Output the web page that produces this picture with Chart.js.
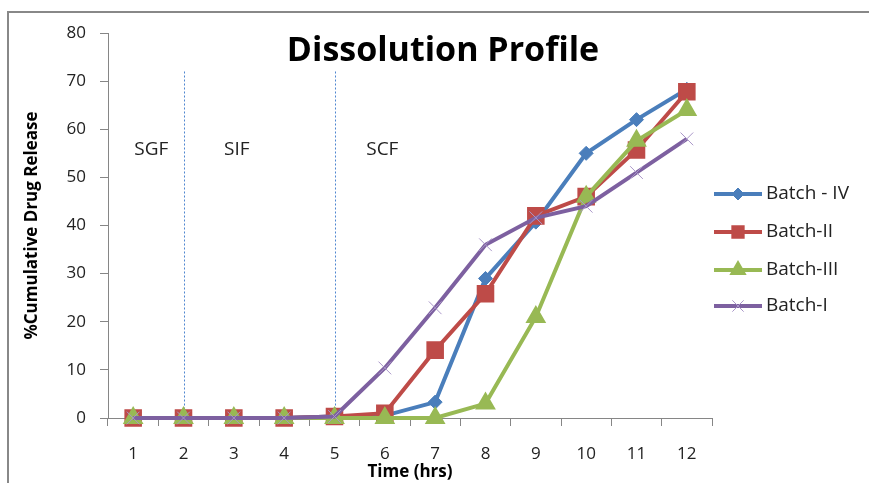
<!DOCTYPE html>
<html>
<head>
<meta charset="utf-8">
<script src="https://cdn.jsdelivr.net/npm/chart.js@4/dist/chart.umd.min.js"></script>
<style>
  html, body { margin: 0; padding: 0; background: #fff; }
  #wrap { width: 869px; height: 483px; }
</style>
</head>
<body>
<div id="wrap"><canvas id="dissChart" width="869" height="483"></canvas></div>
<script>
    var time_x = ['1', '2', '3', '4', '5', '6', '7', '8', '9', '10', '11', '12'];
    var batch_iv = [0, 0, 0, 0, 0.3, 0.5, 3.3, 29, 40.7, 55, 62, 68.3];
    var batch_ii = [0, 0, 0, 0, 0.3, 1, 14.1, 25.8, 42, 46, 55.7, 67.8];
    var batch_iii = [0, 0, 0, 0, 0, 0, 0, 3, 21, 46, 57.6, 64];
    var batch_i = [0, 0, 0, 0, 0.3, 10.4, 22.9, 36, 41.6, 44, 51, 58];
    var phase_names = ['SGF', 'SIF', 'SCF'];
    var phase_at = [0.36, 2.06, 4.95];
    var phase_lines = [1, 4];

    var fontFam = '"Open Sans", "DejaVu Sans", sans-serif';

    // border, phase lines, labels, title and legend
    var extraDraw = {
        id: 'extraDraw',
        beforeDraw: function(chart) {
            var ctx = chart.ctx;
            ctx.save();
            ctx.strokeStyle = '#888';
            ctx.lineWidth = 2;
            ctx.beginPath();
            ctx.moveTo(8, 483);
            ctx.lineTo(8, 12);
            ctx.lineTo(869, 12);
            ctx.stroke();
            ctx.restore();
        },
        beforeDatasetsDraw: function(chart) {
            var ctx = chart.ctx;
            var xs = chart.scales.x, ys = chart.scales.y;
            ctx.save();
            ctx.strokeStyle = '#4F86D0';
            ctx.lineWidth = 1;
            ctx.setLineDash([2, 2]);
            phase_lines.forEach(function(p) {
                var px = Math.round(xs.getPixelForValue(p)) + 0.5;
                ctx.beginPath();
                ctx.moveTo(px, ys.getPixelForValue(72));
                ctx.lineTo(px, ys.getPixelForValue(0));
                ctx.stroke();
            });
            ctx.setLineDash([]);
            ctx.fillStyle = '#222';
            ctx.font = '19px ' + fontFam;
            ctx.textAlign = 'center';
            ctx.textBaseline = 'middle';
            for (var i = 0; i < phase_names.length; i++) {
                ctx.fillText(phase_names[i], xs.getPixelForValue(phase_at[i]), ys.getPixelForValue(55.8));
            }
            ctx.fillStyle = '#000';
            ctx.font = 'bold 34px ' + fontFam;
            ctx.fillText('Dissolution Profile', 443, 51);
            ctx.restore();
        },
        afterDraw: function(chart) {
            var ctx = chart.ctx;
            var rows = [194, 232, 270, 306];
            var sizes = [6, 8, 8, 8];
            ctx.save();
            chart.data.datasets.forEach(function(ds, i) {
                var y = rows[i];
                ctx.strokeStyle = ds.borderColor;
                ctx.lineWidth = 4;
                ctx.beginPath();
                ctx.moveTo(714, y);
                ctx.lineTo(762, y);
                ctx.stroke();
                ctx.fillStyle = ds.pointBackgroundColor;
                ctx.strokeStyle = ds.pointBorderColor;
                ctx.lineWidth = ds.pointBorderWidth;
                Chart.helpers.drawPoint(ctx, {
                    pointStyle: ds.pointStyle,
                    radius: sizes[i],
                    borderWidth: ds.pointBorderWidth,
                    rotation: 0
                }, 738, y);
                ctx.fillStyle = '#222';
                ctx.font = '19px ' + fontFam;
                ctx.textAlign = 'left';
                ctx.textBaseline = 'middle';
                ctx.fillText(ds.label, 766, y);
            });
            ctx.restore();
        }
    };

    const ctx = document.getElementById('dissChart');
    var diss_Chart = new Chart(ctx, {
        type: 'line',
        data: {
            labels: time_x,
            datasets: [{
                label: 'Batch - IV',
                data: batch_iv,
                borderColor: '#4A7EBB',
                backgroundColor: '#4A7EBB',
                pointBackgroundColor: '#4A7EBB',
                pointBorderColor: '#4A7EBB',
                pointStyle: 'rectRot',
                pointRadius: 7,
                pointBorderWidth: 1,
                borderWidth: 4,
                clip: false,
                order: 4
            }, {
                label: 'Batch-II',
                data: batch_ii,
                borderColor: '#BE4B48',
                backgroundColor: '#BE4B48',
                pointBackgroundColor: '#BE4B48',
                pointBorderColor: '#BE4B48',
                pointStyle: 'rect',
                pointRadius: 11,
                pointBorderWidth: 2,
                borderWidth: 4,
                clip: false,
                order: 3
            }, {
                label: 'Batch-III',
                data: batch_iii,
                borderColor: '#98B954',
                backgroundColor: '#98B954',
                pointBackgroundColor: '#98B954',
                pointBorderColor: '#98B954',
                pointStyle: 'triangle',
                pointRadius: 10,
                pointBorderWidth: 2,
                borderWidth: 4,
                clip: false,
                order: 2
            }, {
                label: 'Batch-I',
                data: batch_i,
                borderColor: '#7D60A0',
                backgroundColor: '#7D60A0',
                pointBackgroundColor: '#A996C8',
                pointBorderColor: '#A996C8',
                pointStyle: 'crossRot',
                pointRadius: 9,
                pointBorderWidth: 1,
                borderWidth: 4,
                clip: false,
                order: 1
            }]
        },
        options: {
            responsive: false,
            animation: false,
            devicePixelRatio: 1,
            layout: {
                padding: { left: 8, right: 157, top: 33, bottom: 0 }
            },
            plugins: {
                legend: { display: false },
                title: { display: false },
                tooltip: { enabled: false }
            },
            scales: {
                x: {
                    offset: true,
                    afterFit: function(s) { s.height = 65; },
                    grid: { drawOnChartArea: false, drawTicks: true, tickLength: 8, color: '#868686', offset: true },
                    border: { color: '#868686', width: 1 },
                    ticks: { color: '#222', font: { family: fontFam, size: 17 }, padding: 18, maxRotation: 0 },
                    title: { display: true, text: 'Time (hrs)', color: '#000', font: { family: fontFam, size: 17, weight: 'bold' }, padding: { top: 0, bottom: 1 } }
                },
                y: {
                    min: 0,
                    max: 80,
                    afterFit: function(s) { s.width = 100; },
                    grid: { drawOnChartArea: false, drawTicks: true, tickLength: 8, color: '#868686' },
                    border: { color: '#868686', width: 1 },
                    ticks: { stepSize: 10, color: '#222', font: { family: fontFam, size: 17 }, padding: 14 },
                    title: { display: true, text: '%Cumulative Drug Release', color: '#000', font: { family: fontFam, size: 17, weight: 'bold' }, padding: { top: 14, bottom: 0 } }
                }
            }
        },
        plugins: [extraDraw]
    });
</script>
</body>
</html>
